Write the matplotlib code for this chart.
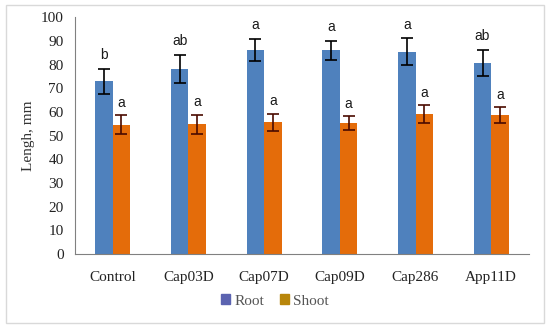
import numpy as np
import matplotlib.pyplot as plt
from matplotlib.patches import Patch, Rectangle

groups = ["Control", "Cap03D", "Cap07D", "Cap09D", "Cap286", "App11D"]
root = [73.0, 78.2, 86.2, 86.0, 85.5, 80.6]
root_err = [5.3, 5.8, 4.5, 4.0, 5.5, 5.5]
shoot = [54.5, 54.8, 55.6, 55.2, 59.0, 58.7]
shoot_err = [4.0, 4.0, 3.6, 3.0, 3.8, 3.3]
root_letters = ["b", "ab", "a", "a", "a", "ab"]
shoot_letters = ["a", "a", "a", "a", "a", "a"]

root_col = "#4F81BD"
shoot_col = "#E46C0A"

fig = plt.figure(figsize=(5.5, 3.3), dpi=100)
ax = fig.add_axes([0.136, 0.230, 0.826, 0.718])
fig.patches.append(Rectangle((0.011, 0.021), 0.978, 0.963, transform=fig.transFigure,
                             fill=False, edgecolor="#D9D9D9", linewidth=1))

x = np.arange(len(groups))
w = 0.23
ax.bar(x - w / 2, root, w, color=root_col)
ax.bar(x + w / 2, shoot, w, color=shoot_col)
ax.errorbar(x - w / 2, root, yerr=root_err, fmt="none", ecolor="black",
            elinewidth=1.2, capsize=4, capthick=1.2)
ax.errorbar(x + w / 2, shoot, yerr=shoot_err, fmt="none", ecolor="#4a0a00",
            elinewidth=1.2, capsize=4, capthick=1.2)

for i in range(len(groups)):
    ax.annotate(root_letters[i], (x[i] - w / 2, root[i] + root_err[i]),
                xytext=(0, 5), textcoords="offset points", ha="center", va="bottom",
                fontsize=10, family="Liberation Sans", color="#1a1a1a")
    ax.annotate(shoot_letters[i], (x[i] + w / 2, shoot[i] + shoot_err[i]),
                xytext=(0, 4), textcoords="offset points", ha="center", va="bottom",
                fontsize=10, family="Liberation Sans", color="#1a1a1a")

ax.set_xlim(-0.5, len(groups) - 0.5)
ax.set_ylim(0, 100)
ax.set_yticks(range(0, 101, 10))
ax.set_xticks(x)
ax.set_xticklabels(groups)
ax.tick_params(length=0, labelsize=11, colors="#222222")
ax.tick_params(axis="x", pad=12)
ax.tick_params(axis="y", pad=8)
for lab in ax.get_xticklabels() + ax.get_yticklabels():
    lab.set_family("Liberation Serif")
for s in ["top", "right"]:
    ax.spines[s].set_visible(False)
for s in ["left", "bottom"]:
    ax.spines[s].set_color("#808080")
ax.set_ylabel("Lengh, mm", family="Liberation Serif", fontsize=11, color="#333333",
              labelpad=4)

handles = [Patch(color="#5B63B0", label="Root"), Patch(color="#B8860B", label="Shoot")]
fig.legend(handles=handles, loc="center", bbox_to_anchor=(0.5, 0.088), ncol=2,
           frameon=False, prop={"family": "Liberation Serif", "size": 11},
           handlelength=0.6, handleheight=0.6, handletextpad=0.3, columnspacing=1.0,
           labelcolor="#555555")

fig.savefig("out.png", dpi=100)
